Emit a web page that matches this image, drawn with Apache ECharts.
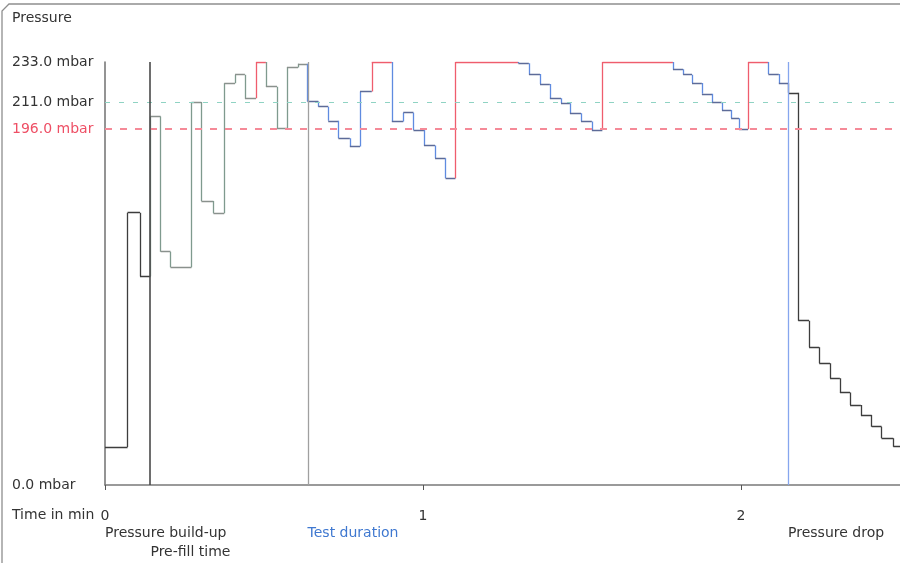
<!DOCTYPE html>
<html>
<head>
<meta charset="utf-8">
<title>Pressure test</title>
<script src="https://cdn.jsdelivr.net/npm/echarts@6/dist/echarts.min.js"></script>
<style>
  html, body { margin: 0; padding: 0; background: #ffffff; }
  #chart { width: 900px; height: 563px; }
</style>
</head>
<body>
<div id="chart"></div>
<script>
// Step profile of the pressure curve: each value holds from its time until the next time (min, mbar)
const stepTimes = [
  0, 0.071, 0.110,
  0.143, 0.175, 0.206, 0.272, 0.303, 0.341, 0.375, 0.409, 0.440, 0.475, 0.506, 0.541, 0.572, 0.607,
  0.637, 0.671, 0.702, 0.734, 0.770, 0.802, 0.839, 0.902, 0.938, 0.970, 1.003, 1.038, 1.071,
  1.102, 1.300, 1.333, 1.368, 1.399, 1.434, 1.462, 1.497, 1.531,
  1.564, 1.786, 1.818, 1.846, 1.877, 1.909, 1.940, 1.969, 1.994,
  2.022, 2.086, 2.119,
  2.148, 2.180, 2.214, 2.246, 2.280, 2.311, 2.343, 2.377, 2.411, 2.442, 2.479
];
const stepValues = [
  21, 150, 115,
  203, 128.5, 120, 211, 156.5, 149.7, 221.3, 226, 213, 233, 219.4, 196.5, 230, 232,
  211.2, 208.4, 200.6, 191, 186.4, 216.7, 233, 200.2, 205.1, 195.6, 187, 180, 169,
  233, 232.3, 226.4, 220.9, 213, 210.3, 204.8, 200.2, 195.6,
  233, 229, 226, 221.5, 215.5, 211, 206.5, 202, 196,
  233, 226.4, 221.3,
  216, 90.5, 75.9, 67, 58.8, 50.9, 44, 38.6, 32.1, 25.7, 21.1
];
const endTime = 2.5;

// Phases of the test cycle
const phaseNames = ['Pressure build-up', 'Pre-fill time', 'Test duration', 'Pressure drop'];
const phaseStarts = [0, 0.143, 0.637, 2.148];
const phaseLabelRows = [0, 1, 0, 0];
const phaseLabelColors = ['#333333', '#333333', '#3f78d0', '#333333'];
const phaseLineColors = ['#707070', '#4a4a4a', '#a0a0a0', '#86a6ee'];

// Pressure limits
const upperLimit = 211;
const lowerLimit = 196;
const maxPressure = 233;
const yTickValues = [0, lowerLimit, upperLimit, maxPressure];
const xTickValues = [0, 1, 2];

const RED = '#ef5d6d';
function phaseIndex(t) {
  let idx = 0;
  for (let i = 0; i < phaseStarts.length; i++) if (t >= phaseStarts[i] - 1e-9) idx = i;
  return idx;
}
function segColor(t, vertical) {
  const p = phaseIndex(t);
  if (p === 0 || p === 3) return '#3d3d3d';
  if (p === 1) return vertical ? '#7f9a8e' : '#8a918d';
  return vertical ? '#5f8be0' : '#5d6b98';
}

// Split the step profile into coloured horizontal and vertical pieces
const segments = [];
for (let i = 0; i < stepTimes.length; i++) {
  const t0 = stepTimes[i];
  const t1 = i + 1 < stepTimes.length ? stepTimes[i + 1] : endTime;
  const v = stepValues[i];
  segments.push({
    coords: [[t0, v], [t1, v]],
    lineStyle: { color: v >= maxPressure ? RED : segColor(t0, false) }
  });
  if (i + 1 < stepTimes.length) {
    const vn = stepValues[i + 1];
    segments.push({
      coords: [[t1, v], [t1, vn]],
      lineStyle: { color: vn >= maxPressure ? RED : segColor(t1, true) }
    });
  }
}

const chart = echarts.init(document.getElementById('chart'), null, { renderer: 'canvas' });
const FONT = 'DejaVu Sans';

const option = {
  animation: false,
  backgroundColor: '#ffffff',
  textStyle: { fontFamily: FONT },
  grid: { left: 105, right: 0, top: 62, bottom: 78, containLabel: false },
  xAxis: {
    type: 'value', min: 0, max: endTime, interval: 1,
    axisLine: { show: true, lineStyle: { color: '#7a7a7a', width: 1.5 } },
    axisTick: { show: true, length: 5, customValues: xTickValues, lineStyle: { color: '#555555' } },
    axisLabel: { customValues: xTickValues, margin: 24, color: '#333333', fontSize: 14, fontFamily: FONT },
    splitLine: { show: false }
  },
  yAxis: {
    type: 'value', min: 0, max: maxPressure,
    axisLine: { show: true, lineStyle: { color: '#707070', width: 1.5 } },
    axisTick: { show: false },
    splitLine: { show: false },
    axisLabel: {
      customValues: yTickValues,
      align: 'left', margin: 93, fontSize: 14, fontFamily: FONT,
      formatter: (v) => v.toFixed(1) + ' mbar',
      color: (v) => (Number(v) === lowerLimit ? '#ee4f65' : '#333333')
    }
  },
  series: [
    {
      type: 'line', data: [], silent: true,
      markLine: {
        silent: true, symbol: 'none', label: { show: false },
        data: [
          { yAxis: upperLimit, lineStyle: { color: '#8fd3c3', type: [5, 9], width: 1.2 } },
          { yAxis: lowerLimit, lineStyle: { color: '#f58a98', type: [7, 8], width: 1.8 } }
        ]
      }
    },
    {
      type: 'line', data: [], silent: true, z: 3,
      markLine: {
        silent: true, symbol: 'none', label: { show: false },
        data: phaseStarts.slice(1).map((t, i) => ({
          xAxis: t, lineStyle: { color: phaseLineColors[i + 1], type: 'solid', width: i === 0 ? 1.6 : 1.3 }
        }))
      }
    },
    {
      name: 'Pressure',
      type: 'lines',
      coordinateSystem: 'cartesian2d',
      polyline: false,
      silent: true,
      z: 4,
      lineStyle: { width: 1.3, opacity: 1 },
      data: segments
    }
  ]
};
chart.setOption(option);

// Texts placed from the axis scales
const rowY = [533, 552];
const graphics = [
  {
    type: 'polyline', silent: true, z: 0,
    shape: { points: [[2, 600], [2, 11], [9, 4], [900, 4]] },
    style: { fill: 'none', stroke: '#8e8e8e', lineWidth: 1.3 }
  },
  {
    type: 'text', left: 12, top: 11,
    style: { text: 'Pressure', fill: '#333333', font: '14px "' + FONT + '"' }
  },
  {
    type: 'text', x: 12, y: chart.convertToPixel({ yAxisIndex: 0 }, 0) + 30,
    style: { text: 'Time in min', fill: '#333333', font: '14px "' + FONT + '"', verticalAlign: 'middle' }
  }
];
phaseNames.forEach((name, i) => {
  const px = chart.convertToPixel({ xAxisIndex: 0 }, phaseStarts[i]);
  graphics.push({
    type: 'text', x: px, y: rowY[phaseLabelRows[i]],
    style: {
      text: name, fill: phaseLabelColors[i], font: '14px "' + FONT + '"',
      align: 'left', verticalAlign: 'middle'
    }
  });
});
chart.setOption({ graphic: graphics });
</script>
</body>
</html>
